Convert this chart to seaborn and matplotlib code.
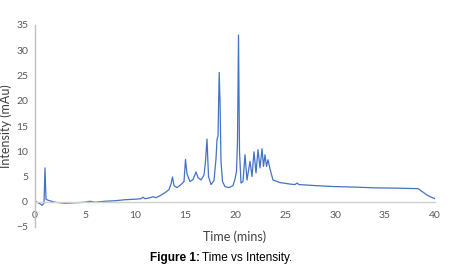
import matplotlib.pyplot as plt
import seaborn as sns
import pandas as pd

tempo = [0, 0.5, 0.7, 0.9, 1.0, 1.1, 1.3, 2.0, 3.0, 4.0, 5.0, 5.5, 6.0, 7.0, 8.0, 9.0,
         10.0, 10.6, 10.8, 11.0, 11.5, 11.8, 12.1, 12.5, 13.0, 13.4, 13.6, 13.75, 13.9,
         14.2, 14.6, 14.9, 15.05, 15.2, 15.5, 15.8, 16.1, 16.3, 16.6, 16.9, 17.05, 17.2,
         17.35, 17.6, 17.9, 18.1, 18.2, 18.3, 18.42, 18.5, 18.6, 18.75, 19.0, 19.4, 19.8,
         20.0, 20.15, 20.25, 20.35, 20.45, 20.6, 20.8, 21.0, 21.2, 21.5, 21.7, 21.9,
         22.1, 22.3, 22.5, 22.7, 22.85, 23.0, 23.15, 23.3, 23.5, 23.8, 24.5, 25.5, 26.0,
         26.2, 26.4, 28.0, 30.0, 32.0, 34.0, 36.0, 38.3, 39.3, 40.0]
intensita = [0.1, -0.4, -0.7, -0.3, 6.7, 0.5, 0.3, -0.1, -0.3, -0.2, -0.1, 0.1, -0.1,
             0.1, 0.2, 0.4, 0.5, 0.6, 0.9, 0.6, 0.8, 1.0, 0.8, 1.2, 1.8, 2.4, 3.5, 4.9,
             3.2, 2.8, 3.4, 4.0, 8.4, 5.5, 4.0, 4.4, 5.9, 4.8, 4.3, 5.3, 8.0, 12.4, 5.0,
             3.4, 4.2, 8.5, 12.3, 13.0, 25.6, 20.0, 8.0, 4.0, 3.0, 2.8, 3.2, 4.5, 6.0, 12.0,
             33.0, 10.0, 3.7, 4.0, 9.3, 4.3, 8.0, 5.0, 9.9, 5.7, 10.3, 6.7, 10.5, 7.0,
             9.3, 7.0, 8.3, 6.5, 4.3, 3.8, 3.5, 3.4, 3.7, 3.4, 3.2, 3.0, 2.9, 2.75, 2.7,
             2.6, 1.2, 0.6]

xticks = [0, 5, 10, 15, 20, 25, 30, 35, 40]
yticks = [-5, 0, 5, 10, 15, 20, 25, 30, 35]

sns.set_theme(style="white")
plt.rcParams['font.family'] = ['Lato', 'DejaVu Sans']

df = pd.DataFrame({'Tempo': tempo, 'Intensita': intensita})

fig = plt.figure(figsize=(4.57, 2.72), dpi=100)
ax = fig.add_axes([35/457, 45/272, 400/457, 202/272])

sns.lineplot(data=df, x='Tempo', y='Intensita', ax=ax, color='#4472C4', linewidth=0.9)

ax.set_xlim(0, 40)
ax.set_ylim(-5, 35)
ax.set_xticks(xticks)
ax.set_yticks(yticks)

ax.spines['top'].set_visible(False)
ax.spines['right'].set_visible(False)
ax.spines['bottom'].set_position(('data', 0))
ax.spines['bottom'].set_color('#D0D0D0')
ax.spines['left'].set_color('#BFBFBF')
ax.spines['bottom'].set_linewidth(1.0)
ax.spines['left'].set_linewidth(1.0)
ax.tick_params(axis='x', length=0, pad=7, labelsize=7.5, labelcolor='#595959')
ax.tick_params(axis='y', length=0, pad=5, labelsize=7.5, labelcolor='#595959')

ax.set_xlabel('')
ax.set_ylabel('Intensity (mAu)', fontsize=9, color='#404040', labelpad=3)
fig.text(235/457, 1 - 237/272, 'Time (mins)', ha='center', va='center',
         fontsize=9, color='#404040')

fig.text(200/457, 1 - 258/272, 'Figure 1:', ha='right', va='center', fontsize=8.5,
         fontweight='bold', color='black', family='Liberation Sans')
fig.text(202/457, 1 - 258/272, 'Time vs Intensity.', ha='left', va='center',
         fontsize=8.5, color='black', family='Liberation Sans')

plt.savefig('out.png', dpi=100)
